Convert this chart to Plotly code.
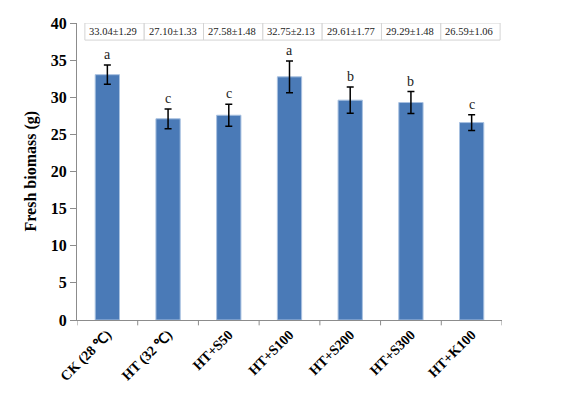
import plotly.graph_objects as go

categories = ["CK (28 ℃)", "HT (32 ℃)", "HT+S50", "HT+S100", "HT+S200", "HT+S300", "HT+K100"]
means = [33.04, 27.10, 27.58, 32.75, 29.61, 29.29, 26.59]
sds = [1.29, 1.33, 1.48, 2.13, 1.77, 1.48, 1.06]
letters = ["a", "c", "c", "a", "b", "b", "c"]
y_ticks = [0, 5, 10, 15, 20, 25, 30, 35, 40]

serif = "Liberation Serif, Times New Roman, serif"

fig = go.Figure()
fig.add_trace(go.Bar(
    x=list(range(len(categories))), y=means, width=0.4,
    marker=dict(color="#4a7ab7", line=dict(color="#a8c1e0", width=1)),
    error_y=dict(type="data", array=sds, visible=True, color="black", thickness=1.5, width=3.5),
    showlegend=False,
))

annotations = []
for i, (m, s, l) in enumerate(zip(means, sds, letters)):
    annotations.append(dict(x=i, y=m + s, text=l, showarrow=False, yanchor="bottom", yshift=1,
                            font=dict(family=serif, size=14, color="#222")))

# table of mean ± sd along the top
shapes = []
left0 = -0.37
cw = 0.977
for i, (m, s) in enumerate(zip(means, sds)):
    x0 = left0 + i * cw
    x1 = x0 + cw
    shapes.append(dict(type="rect", xref="x", yref="y", x0=x0, x1=x1, y0=37.7, y1=40,
                       line=dict(color="#d4d4d4", width=1), fillcolor="white", layer="above"))
    annotations.append(dict(x=x0 + 0.04, y=38.85, xref="x", yref="y", xanchor="left", yanchor="middle",
                            text=f"{m:.2f}±{s:.2f}", showarrow=False,
                            font=dict(family=serif, size=10.5, color="#222")))

annotations.append(dict(x=-(77 - 30) / 425, y=0.5, xref="paper", yref="paper",
                        xanchor="center", yanchor="middle", text="<b>Fresh biomass (g)</b>",
                        textangle=-90, showarrow=False, font=dict(family=serif, size=16, color="black")))

# page has an 8px body margin: figure sized/offset to compensate
fig.update_layout(
    width=557, height=387,
    margin=dict(l=69, r=63, t=15, b=75, autoexpand=False),
    paper_bgcolor="white", plot_bgcolor="white",
    shapes=shapes, annotations=annotations,
    xaxis=dict(
        tickmode="array", tickvals=list(range(len(categories))),
        ticktext=[f"<b>{c}</b>" for c in categories],
        range=[-0.5, 6.5], tickangle=-45, showgrid=False, zeroline=False, automargin=False,
        showline=True, linecolor="#8c8c8c", linewidth=1,
        ticks="", tickfont=dict(family=serif, size=14, color="black"),
    ),
    yaxis=dict(
        range=[0, 40], tickmode="array", tickvals=y_ticks,
        ticktext=[f"<b>{t}</b>" for t in y_ticks], automargin=False,
        showgrid=False, zeroline=False,
        showline=True, linecolor="#8c8c8c", linewidth=1,
        ticks="outside", ticklen=6, tickcolor="#8c8c8c",
        tickfont=dict(family=serif, size=16, color="black"),
    ),
    bargap=0.6,
)

# category boundary tick marks on x axis
for b in range(len(categories) + 1):
    fig.add_shape(type="line", xref="x", yref="paper", x0=b - 0.5, x1=b - 0.5, y0=0, y1=-0.018,
                  line=dict(color="#8c8c8c", width=1))

fig.write_html("out.html")
